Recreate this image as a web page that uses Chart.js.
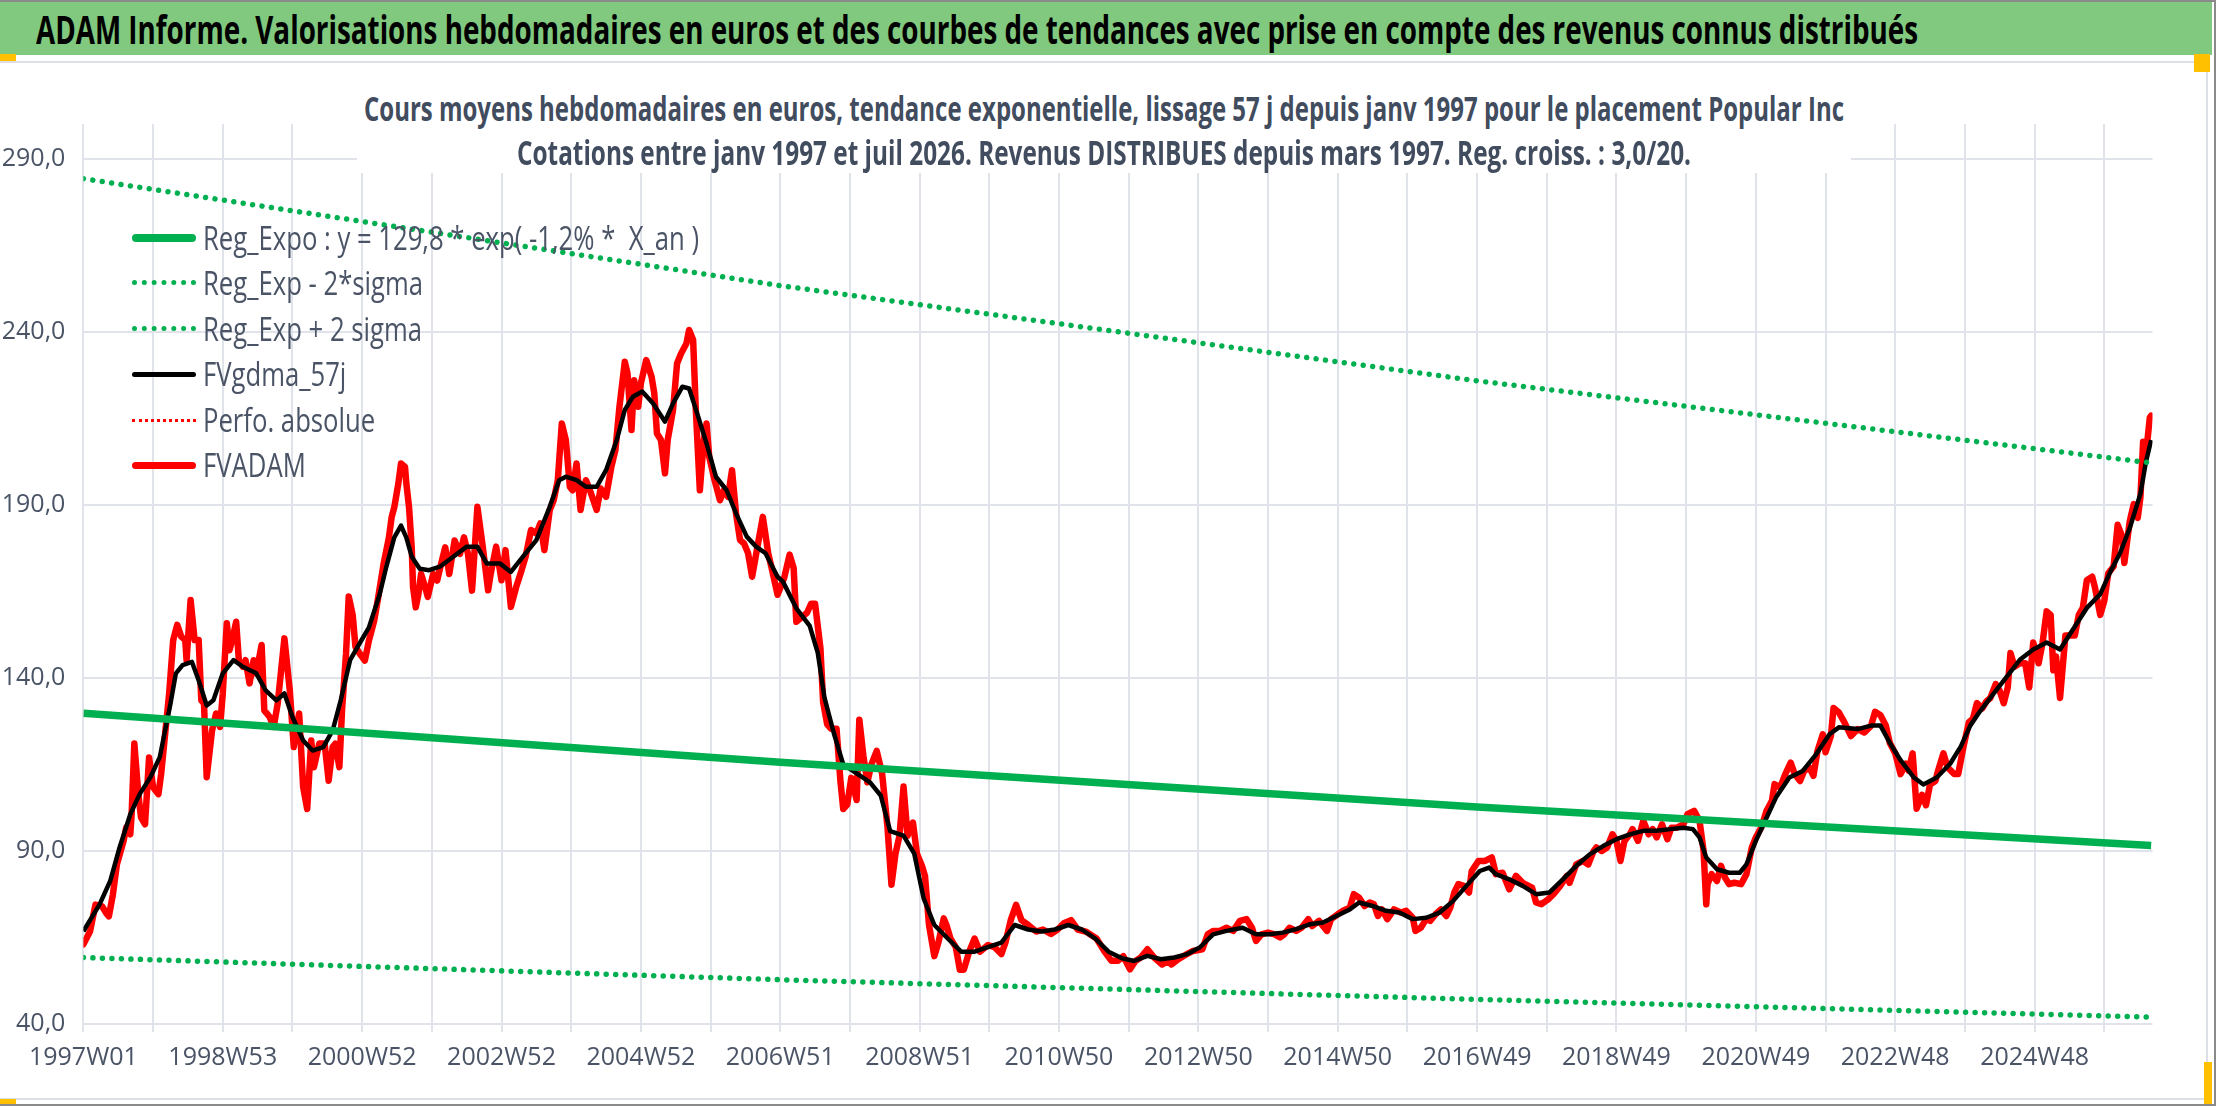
<!DOCTYPE html>
<html>
<head>
<meta charset="utf-8">
<title>ADAM Informe - Popular Inc</title>
<script src="https://cdn.jsdelivr.net/npm/chart.js@4.4.1/dist/chart.umd.min.js"></script>
<style>
html, body { margin: 0; padding: 0; background: #fff; }
#page { position: relative; width: 2216px; height: 1106px; overflow: hidden;
        font-family: "Liberation Sans Narrow", "Open Sans", sans-serif; }
#frameTop { position: absolute; left: 0; top: 0; width: 2216px; height: 2px; background: #8a8a8a; }
#frameBottom { position: absolute; left: 0; top: 1104px; width: 2216px; height: 2px; background: #8a8a8a; }
#frameRight { position: absolute; left: 2214px; top: 0; width: 2px; height: 1106px; background: #8a8a8a; }
#header { position: absolute; left: 0; top: 2px; width: 2212px; height: 53px; background: #80c97f; }
#header span { position: absolute; left: 36px; top: 6px; font-size: 39px; line-height: 42px; font-weight: bold;
               color: #000; white-space: pre; transform-origin: 0 50%; }
#box { position: absolute; left: 0; top: 61px; width: 2206px; height: 1035px;
       border: 2px solid #dcdfe4; border-left: none; }
#chart { position: absolute; left: 0; top: 0; }
#subtitle { position: absolute; left: 357px; top: 64px; width: 1494px; height: 109px; background: #fff; }
.sub { position: absolute; font-size: 34px; line-height: 36px; font-weight: bold; color: #414c5e;
       white-space: pre; transform-origin: 0 50%; }
.legRow { position: absolute; left: 132px; height: 40px; }
.legSample { position: absolute; left: 0; width: 64px; }
.legText { position: absolute; left: 71px; top: 0; font-size: 33px; line-height: 40px; color: #4a5466;
           white-space: pre; transform-origin: 0 50%; }
.handle { position: absolute; background: #ffc000; }
</style>
</head>
<body>
<div id="page">
  <div id="frameTop"></div>
  <div id="frameBottom"></div>
  <div id="frameRight"></div>
  <div id="box"></div>
  <canvas id="chart" width="2216" height="1106"></canvas>
  <div id="subtitle">
    <span class="sub" id="sub1">Cours moyens hebdomadaires en euros, tendance exponentielle, lissage 57 j depuis janv 1997 pour le placement Popular Inc</span>
    <span class="sub" id="sub2">Cotations entre janv 1997 et juil 2026. Revenus DISTRIBUES depuis mars 1997. Reg. croiss. : 3,0/20.</span>
  </div>
  <div id="header"><span id="title">ADAM Informe. Valorisations hebdomadaires en euros et des courbes de tendances avec prise en compte des revenus connus distribués</span></div>
  <div id="legend"></div>
  <div class="handle" style="left:0;top:54px;width:16px;height:7px"></div>
  <div class="handle" style="left:2194px;top:54px;width:16px;height:18px"></div>
  <div class="handle" style="left:0;top:1099px;width:16px;height:5px"></div>
  <div class="handle" style="left:2204px;top:1062px;width:8px;height:42px"></div>
</div>
<script>
// x axis = week index since 1997W01, one tick every 52 weeks, a label every 104
const tickLabels = ["1997W01", "1998W53", "2000W52", "2002W52", "2004W52", "2006W51", "2008W51",
    "2010W50", "2012W50", "2014W50", "2016W49", "2018W49", "2020W49", "2022W48", "2024W48"];
const yTicks = [40, 90, 140, 190, 240, 290];

const seriesNames = ["Reg_Expo : y = 129,8 * exp( -1,2% *  X_an )", "Reg_Exp - 2*sigma", "Reg_Exp + 2 sigma",
    "FVgdma_57j", "Perfo. absolue", "FVADAM"];

// regression curves, read at a few weeks
const regWeeks = [0, 520, 1040, 1543];
const regExpo = [129.8, 115.6, 102.7, 91.6];
const regLow = [59.2, 52.8, 47.1, 42.0];
const regHigh = [284.2, 253.3, 225.8, 202.1];

// no visible values for Perfo. absolue
const perfoWeeks = [];
const perfoValues = [];

// FVADAM weekly valuation (turning points)
const adamWeeks = [0,5,9,14,17,19,22,25,30,32,35,36,38,41,43,46,49,52,56,58,61,64,67,70,73,76,77,80,83,86,88,90,92,94,96,99,
 102,104,107,109,111,114,116,119,121,124,127,129,133,135,139,142,145,150,154,157,159,161,164,167,170,172,176,180,183,186,188,191,193,196,198,
 201,203,206,210,213,217,220,224,228,230,232,235,237,240,241,243,245,246,248,250,252,255,257,261,264,267,270,273,277,281,284,287,290,294,298,
 302,304,308,312,315,319,323,327,330,334,338,341,344,348,351,354,357,360,363,365,368,371,375,378,383,386,390,394,397,
 400,404,406,409,411,414,416,420,424,426,428,431,434,436,440,443,446,450,452,455,457,460,463,465,467,471,475,478,481,484,487,490,493,496,499,
 503,507,511,514,518,523,527,530,532,536,540,543,546,550,552,555,558,562,565,567,570,573,577,579,582,585,588,592,596,
 600,603,606,609,612,615,619,622,626,628,631,635,638,642,644,647,651,654,657,661,665,669,675,680,685,688,692,696,
 700,705,711,716,722,727,732,737,742,748,756,762,767,772,776,781,785,789,794,799,
 805,809,812,817,823,828,835,839,843,848,853,858,863,868,872,875,879,884,889,893,896,
 900,905,909,914,917,922,928,931,936,940,945,948,952,956,960,963,966,969,973,978,983,987,992,994,998,
 1002,1005,1009,1013,1017,1020,1023,1026,1030,1034,1036,1041,1046,1051,1054,1059,1064,1069,1074,1081,1084,1088,1093,1097,
 1102,1107,1109,1114,1119,1123,1127,1129,1133,1137,1141,1144,1147,1150,1154,1156,1160,1164,1168,1171,1174,1178,1182,1185,1189,1194,1197,
 1202,1206,1209,1211,1212,1215,1219,1222,1225,1228,1232,1237,1241,1245,1248,1252,1256,1260,1262,1266,1270,1274,1277,1281,1284,1288,1291,1294,1298,
 1300,1304,1306,1310,1314,1319,1324,1329,1334,1337,1341,1345,1348,1352,1356,1360,1362,1365,1368,1372,1375,1378,1382,1384,1388,1391,1396,1399,
 1403,1407,1410,1413,1417,1420,1423,1427,1430,1433,1436,1438,1441,1445,1449,1452,1455,1459,1462,1465,1468,1470,1472,1475,1479,1482,1486,1489,1492,1495,1499,
 1501,1505,1508,1511,1515,1518,1521,1523,1527,1530,1533,1535,1537,1539,1542,1543];
const adamValues = [63,66.8,74.5,74,72,71.1,77.4,86.1,92.9,96.8,94.8,100.6,121,106.4,99.7,97.7,117,108.4,106.4,112.2,123.8,135.5,150.9,155.3,151.9,150.9,145.1,162.5,150.9,150.9,133.5,132.6,111.3,118,124.8,129.7,
 125.8,135.5,155.8,148,150.9,156.2,145.1,143.2,145.1,138.4,145.1,141.3,149.5,130.6,128.7,125.8,132.6,151.4,136.4,120,125.8,129.7,108.4,102.1,121.9,114.2,121,121,110.3,120,121,114.2,130.6,147.1,163.5,
 158,149,147.1,145,150.7,156.5,163.3,172.9,180.6,186.4,189.3,196.1,201.9,200.9,196.1,189.3,177.7,166.2,160.4,164.2,170,166.2,163.4,170,168.1,173,177.7,170,179.7,175.8,180.6,175.8,165.2,189.4,177.9,
 165.3,170.2,177.9,168.2,176.9,160.5,166.3,171.1,175,182.7,181.7,184.6,176.9,188.5,191.4,197.1,213.5,208.7,195.2,194.2,201.9,188.5,197.1,194.2,188.5,194.7,192.3,201,205.8,
 218.3,231.3,228,211.6,226,218.3,225.1,231.8,227,222.2,210.6,208.7,199.1,208.7,217.4,230.8,233.7,236.6,240.5,237.6,217.4,194.2,208.7,213.5,203.9,197.1,191.3,194.2,192.3,200,187.5,179.8,178.8,176,169.2,
 177.9,186.5,176,171,164,169,175.6,171.7,156.2,157.5,158.8,161.4,161.4,148.5,133,126.6,125.3,125.3,109.8,102.1,103.4,111.1,104.7,127.9,117.6,109.8,115,118.9,112.4,
 97,80.2,89.2,94.4,108.6,94.4,98.2,89.2,85.4,82.8,68.6,59.6,63.5,70.5,68.6,64.7,62.2,55.7,55.7,60.9,64.7,60.9,62.8,62.2,60.2,63.5,70,74.4,
 70,68.6,66.7,67.3,66,67.3,69.2,70,67.3,66.7,64.7,60.9,58.3,58.3,59.6,55.8,58.2,59.2,61.6,59.2,
 57.2,58.2,57.2,58.7,60.1,61.1,61.6,65.9,66.9,66.9,67.8,66.9,69.8,70.3,67.8,64,65.9,66.4,65.9,65,65.9,
 67.8,66.9,67.8,70.3,68.3,69.8,66.9,70.3,71.7,72.7,73.6,77.5,76.5,74.1,75.1,74.6,71.2,73.1,70.3,73.1,72.2,72.7,70.7,66.9,67.8,
 70.3,69.8,71.7,73.1,71.2,73.6,78,80.4,79.9,78,84.2,87.1,87.1,88.1,83.3,83.7,78.9,82.8,80.8,79.4,75.1,74.6,76,77.5,
 79.9,82.8,80.8,86.1,87.1,86.1,90,91,90,91,94.8,92.9,87.1,92.9,94.8,96.3,92.9,98.7,94.8,96.3,93.9,97.7,93.4,96.7,96.7,97.7,100.6,
 101.6,98.7,90,74.6,80.4,83.3,81.3,85.7,82.3,80.4,80.8,80.4,83.3,91,93.9,96.7,101.6,104.5,109.3,108.3,112.2,115.5,112.2,110.2,113.1,114.1,111.7,118.9,123.7,
 118.5,123.2,131.3,130,127.2,123.2,125.2,124.2,126.2,130.2,129.2,126.2,121.2,118.2,112.2,115.2,113.2,118.2,102.2,106.2,103.2,109.2,110.2,113.2,118.2,114.2,112.2,112.2,
 120.2,127.2,128.2,132.7,131.2,133.2,134.2,138.2,136.2,132.7,137.2,147.2,143.2,144.2,144.2,137.2,150.2,144.2,150.2,159.2,158.2,142.2,146.2,134.2,152.2,152.2,152.2,158.2,160.2,168.2,169.2,
 166.2,158.2,162.2,170.2,172.2,184.2,181.2,173.2,185.2,190.2,186.2,192.2,208.2,204.2,215.2,215.7];

// FVgdma_57j smoothed curve
const gdmaWeeks = [0,12,20,27,35,42,50,57,65,69,74,81,86,92,97,104,112,119,129,136,144,150,156,164,171,179,186,192,199,206,213,221,226,232,237,241,245,
 251,258,266,276,286,294,301,311,319,328,338,348,355,360,368,375,383,390,398,404,410,417,425,434,440,447,452,458,465,472,480,487,495,
 502,509,518,522,532,542,548,553,560,567,577,587,595,602,612,620,627,635,645,655,665,675,685,695,705,715,725,735,745,755,765,775,784,794,
 804,814,823,833,843,853,865,875,885,895,905,915,925,935,945,952,962,972,982,992,1002,1012,1022,1032,1042,1049,1054,1064,1074,1084,1094,
 1104,1114,1124,1134,1144,1154,1164,1174,1184,1194,1201,1206,1211,1219,1228,1236,1241,1248,1256,1263,1273,1283,1293,
 1303,1310,1324,1334,1341,1348,1356,1366,1373,1383,1393,1401,1408,1415,1425,1435,1445,1455,1465,1475,1485,1495,1505,1512,1520,1527,1535,1539,1543];
const gdmaValues = [66.8,74.5,81.3,91,100.6,106.4,111.3,117.1,132.6,141.3,143.7,144.6,139.3,132,133.5,141.3,145.1,143.2,141.3,136.4,133.5,135.5,128.7,121.9,119,120,124.8,133.5,145.1,149.9,154.5,164,172,180.6,184,180.5,175,
 171.5,171.1,172.1,175,177.9,177.9,173,173,170.6,175,179.8,189.4,197.1,198.1,197.1,195.2,195.2,200,208.7,217.4,221.2,222.7,219.3,214,219.3,224.1,223.6,216.4,207.7,198.1,194.2,187.5,180.8,
 177.9,176,169.2,167.8,160.1,155,147.2,134.3,124,115,112.4,109.8,106,95.7,94.4,89.2,76.3,68.6,64.7,60.9,60.9,62.2,63.5,68.6,67.3,66.7,67.3,68.6,67.3,64.7,60.9,59,58.2,59.7,
 58.7,59.2,60.1,62.1,65.9,66.9,67.8,65.9,65.9,66.4,67.4,68.8,69.3,71.2,73.1,75.1,74.1,72.7,72.2,70.3,70.7,72.2,75.5,79.9,84.2,85.2,83.3,81.8,79.9,77.5,78,
 81.8,85.7,89,91.4,93.4,94.8,95.8,95.8,96.3,96.7,96.3,93.9,88.1,84.7,83.7,83.7,86.1,92.9,99.6,105.4,111.2,113.1,117.9,
 123.7,125.7,125.2,126.2,126.2,121.2,116.2,111.2,109.2,111.2,115.2,120.2,126.2,130.2,135.2,140.2,145.2,148.2,150.2,148.2,154.2,160.2,164.2,170.2,176.2,183.2,193.2,202.2,208.7];

const green = "#00b050";
const gridColor = "#e0e3e9";
const textColor = "#4a5466";
const narrowFont = '"Liberation Sans Narrow", "Open Sans", sans-serif';

function points(weeks, values) {
    return weeks.map((w, i) => ({ x: w, y: values[i] }));
}

const ctx = document.getElementById("chart").getContext("2d");
const chart = new Chart(ctx, {
    type: "line",
    data: {
        datasets: [
            { label: seriesNames[0], data: points(regWeeks, regExpo), borderColor: green, borderWidth: 7.5 },
            { label: seriesNames[1], data: points(regWeeks, regLow), borderColor: green, borderWidth: 5.5,
              borderDash: [0.01, 9.5], borderCapStyle: "round" },
            { label: seriesNames[2], data: points(regWeeks, regHigh), borderColor: green, borderWidth: 5.5,
              borderDash: [0.01, 9.5], borderCapStyle: "round" },
            { label: seriesNames[4], data: points(perfoWeeks, perfoValues), borderColor: "#ff0000", borderWidth: 2,
              borderDash: [2, 4] },
            { label: seriesNames[3], data: points(gdmaWeeks, gdmaValues), borderColor: "#000000", borderWidth: 4.5,
              borderJoinStyle: "round" },
            { label: seriesNames[5], data: points(adamWeeks, adamValues), borderColor: "#ff0000", borderWidth: 6.5,
              borderJoinStyle: "round", borderCapStyle: "round" }
        ]
    },
    options: {
        responsive: false,
        animation: false,
        events: [],
        elements: { point: { radius: 0 }, line: { tension: 0, fill: false } },
        layout: { padding: { left: 0, top: 124, right: 63.5, bottom: 32 } },
        plugins: { legend: { display: false }, tooltip: { enabled: false }, title: { display: false } },
        scales: {
            x: {
                type: "linear",
                min: 0,
                max: 1544,
                afterBuildTicks: scale => {
                    const ticks = [];
                    for (let w = 0; w <= 1544; w += 52) ticks.push({ value: w });
                    scale.ticks = ticks;
                },
                afterFit: scale => { scale.height = 50; },
                ticks: {
                    autoSkip: false,
                    maxRotation: 0,
                    padding: 11,
                    color: textColor,
                    font: { family: narrowFont, size: 25 },
                    callback: value => (value % 104 === 0 ? tickLabels[value / 104] : "")
                },
                grid: { color: gridColor, lineWidth: 2, drawTicks: true, tickLength: 8 },
                border: { display: false }
            },
            y: {
                type: "linear",
                min: 40,
                max: 300,
                afterBuildTicks: scale => { scale.ticks = yTicks.map(v => ({ value: v })); },
                afterFit: scale => { scale.width = 83.4; },
                ticks: {
                    padding: 18,
                    color: textColor,
                    font: { family: narrowFont, size: 25 },
                    callback: value => value.toFixed(1).replace(".", ",")
                },
                grid: { color: gridColor, lineWidth: 2, drawTicks: false },
                border: { display: false }
            }
        }
    }
});

// legend inside the plot, built from the datasets
const legendOrder = [0, 1, 2, 4, 3, 5];
const legendRows = [238, 283, 329, 374, 420, 465];
const legendEl = document.getElementById("legend");
const legendTexts = [];
legendOrder.forEach((dsIndex, i) => {
    const ds = chart.data.datasets[dsIndex];
    const row = document.createElement("div");
    row.className = "legRow";
    row.style.top = (legendRows[i] - 20) + "px";
    const sample = document.createElement("div");
    sample.className = "legSample";
    if (ds.borderDash && ds.borderWidth >= 4) {
        sample.style.top = "17px";
        sample.style.borderTop = "5px dotted " + ds.borderColor;
    } else if (ds.borderDash) {
        sample.style.top = "19px";
        sample.style.borderTop = "3px dotted " + ds.borderColor;
    } else {
        const h = Math.round(ds.borderWidth);
        sample.style.top = (20 - h / 2) + "px";
        sample.style.height = h + "px";
        sample.style.borderRadius = (h / 2) + "px";
        sample.style.background = ds.borderColor;
    }
    const text = document.createElement("span");
    text.className = "legText";
    text.textContent = ds.label;
    row.appendChild(sample);
    row.appendChild(text);
    legendEl.appendChild(row);
    legendTexts.push(text);
});

function naturalWidth(el) {
    el.style.transform = "none";
    return el.getBoundingClientRect().width;
}

function fitTexts() {
    const title = document.getElementById("title");
    title.style.transform = "scaleX(" + (1882 / naturalWidth(title)) + ")";

    const sub1 = document.getElementById("sub1");
    const sub2 = document.getElementById("sub2");
    // both lines centred on x = 1104 (box starts at 357)
    sub1.style.left = (1104 - 357 - 740) + "px";
    sub1.style.top = (108 - 64 - 18) + "px";
    sub1.style.transform = "scaleX(" + (1480 / naturalWidth(sub1)) + ")";
    sub2.style.left = (1104 - 357 - 587) + "px";
    sub2.style.top = (152 - 64 - 18) + "px";
    sub2.style.transform = "scaleX(" + (1174 / naturalWidth(sub2)) + ")";

    const k = 496 / naturalWidth(legendTexts[0]);
    legendTexts.forEach(t => { t.style.transform = "scaleX(" + k + ")"; });
}

fitTexts();
if (document.fonts && document.fonts.ready) document.fonts.ready.then(fitTexts);
</script>
</body>
</html>
